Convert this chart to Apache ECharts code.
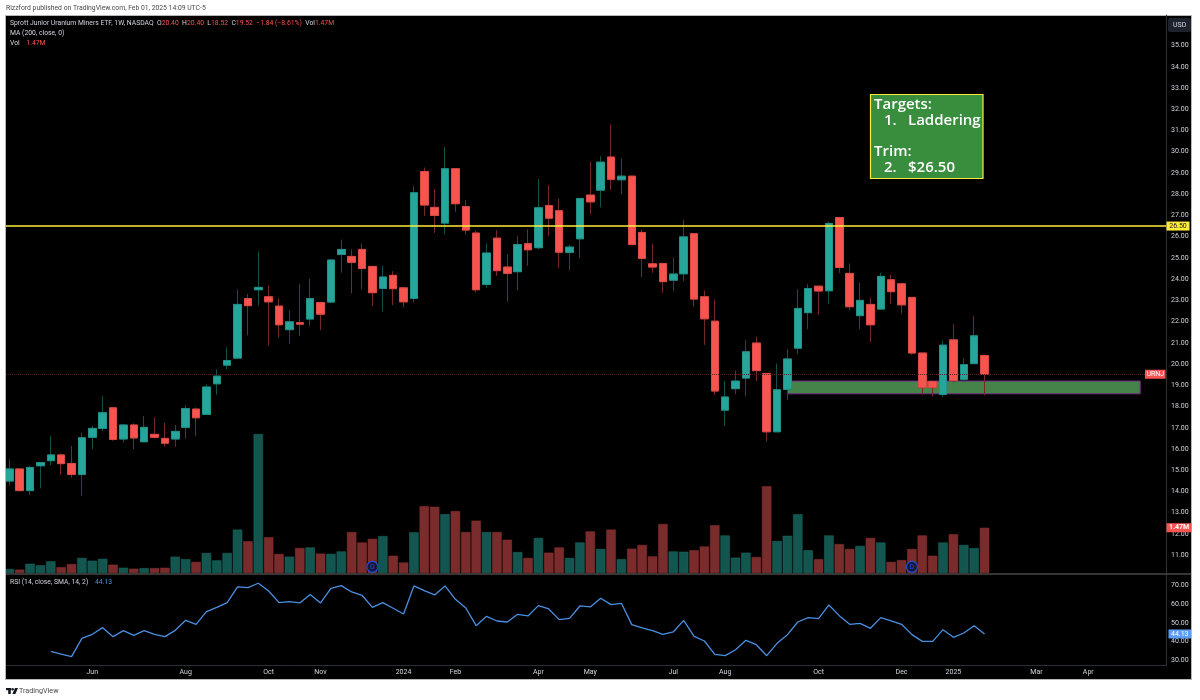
<!DOCTYPE html>
<html>
<head>
<meta charset="utf-8">
<title>URNJ 1W</title>
<style>
html, body { margin: 0; padding: 0; background: #fff; }
#frame { position: absolute; left: 5px; top: 15px; width: 1185px; height: 663px; background: #000; border: 1px solid #b8b8b8; }
#chart { position: absolute; left: 0; top: 0; width: 1200px; height: 700px; }
</style>
</head>
<body>
<div id="frame"></div>
<div id="chart"></div>
<script src="https://cdn.jsdelivr.net/npm/echarts@6/dist/echarts.min.js"></script>
<script>
var opens = [14.49,15.06,14.04,15.21,15.45,15.72,15.32,14.80,16.55,16.97,17.94,16.47,17.13,16.34,16.69,16.50,16.47,17.02,17.88,17.63,
    19.07,19.95,20.28,23.09,23.50,23.17,22.73,21.62,21.95,22.12,22.90,22.92,25.16,25.07,25.40,24.60,23.56,24.18,23.59,23.09,
    29.07,27.38,26.64,29.20,27.42,26.17,23.75,25.93,24.57,24.35,25.67,25.48,27.47,27.22,25.26,25.90,27.96,28.19,29.75,28.68,
    28.85,26.20,24.72,24.74,23.95,24.25,26.14,23.17,22.02,17.83,18.84,19.34,20.99,19.56,16.81,18.81,20.75,22.42,23.67,23.45,
    26.90,24.27,22.28,22.81,22.59,23.97,23.78,23.14,20.52,19.18,18.57,21.14,19.28,20.02,20.40];
var closes = [15.06,14.04,15.13,15.36,15.72,15.31,14.80,16.53,16.97,17.71,16.45,17.13,16.52,17.02,16.55,16.27,16.83,17.91,17.47,18.92,
    19.43,20.17,22.81,22.75,23.61,22.93,21.85,21.99,21.88,23.09,22.35,24.90,25.40,24.79,24.50,23.36,24.10,23.55,22.93,28.07,
    27.49,27.00,29.20,27.55,26.31,23.50,25.23,24.40,24.27,25.63,25.38,27.36,26.87,25.27,25.51,27.80,27.64,29.51,28.70,28.85,
    25.63,24.97,24.57,23.88,24.24,25.99,23.06,22.13,18.73,18.45,19.20,20.58,19.69,16.81,18.79,20.24,22.62,23.56,23.44,26.62,
    24.55,22.70,23.00,21.85,24.13,23.41,22.79,20.52,18.89,18.89,20.89,19.22,19.97,21.33,19.52];
var lows = [14.27,14.00,13.83,14.15,15.24,14.77,14.65,13.79,16.00,16.85,16.39,16.30,16.00,16.34,16.50,16.11,16.11,16.48,16.59,17.63,
    18.56,19.75,20.28,21.35,22.75,20.86,21.24,20.96,21.33,21.80,21.60,22.89,24.30,23.33,23.53,22.73,22.48,22.77,22.67,22.90,
    26.98,26.18,26.10,27.17,26.10,23.37,23.59,24.16,22.94,23.48,24.63,25.40,26.03,24.53,24.43,24.98,27.06,27.38,28.21,28.00,
    25.63,24.10,24.30,23.36,23.44,23.91,22.70,20.90,18.54,17.08,18.59,18.49,19.20,16.37,16.81,18.30,20.47,21.65,22.31,22.84,
    24.30,22.54,21.65,21.04,22.59,22.84,22.37,20.44,18.57,18.48,18.46,19.12,19.17,20.02,18.52];
var highs = [15.51,15.06,15.20,15.36,16.61,15.79,16.14,16.77,17.08,18.49,17.94,17.17,17.21,17.55,17.49,17.24,17.13,18.07,17.96,19.04,
    19.75,20.79,23.52,23.30,25.30,23.70,23.09,22.53,23.77,24.02,22.90,24.94,25.87,25.40,25.68,24.60,24.63,24.38,23.59,28.38,
    29.26,28.25,30.22,29.20,27.72,26.28,25.68,26.31,25.18,26.03,26.34,28.71,28.43,27.80,25.63,27.80,29.54,29.79,31.28,29.68,
    28.85,26.34,25.68,24.74,25.02,26.81,26.14,23.47,23.04,19.20,19.70,21.13,21.29,19.56,20.03,20.71,23.53,23.77,23.67,26.70,
    26.90,24.74,23.83,23.12,24.30,24.22,23.78,23.14,20.52,19.23,21.10,21.88,20.27,22.26,20.40];
// volume in millions
var volumes = [0.13,0.11,0.30,0.25,0.38,0.19,0.29,0.49,0.40,0.46,0.27,0.17,0.14,0.16,0.16,0.17,0.53,0.45,0.36,0.65,
    0.41,0.65,1.41,1.03,4.51,1.16,0.62,0.53,0.81,0.83,0.63,0.62,0.70,1.33,0.99,1.11,1.20,0.56,0.34,1.32,
    2.17,2.15,1.91,2.01,1.33,1.70,1.33,1.33,1.08,0.68,0.49,1.14,0.66,0.83,0.49,0.99,1.35,0.78,1.41,0.45,
    0.79,0.91,0.54,1.59,0.70,0.69,0.74,0.86,1.55,1.22,0.50,0.66,0.52,2.82,1.04,1.21,1.91,0.74,0.45,1.22,
    0.94,0.78,0.88,1.14,0.99,0.36,0.42,0.78,1.22,0.56,0.99,1.26,0.91,0.81,1.47];
var rsi = [null,null,null,null,34.81,33.38,31.95,41.78,43.93,47.50,42.67,45.89,43.39,45.89,43.93,42.67,46.07,51.43,49.29,56.08,
    58.40,60.90,69.30,68.95,71.27,67.16,60.90,61.44,60.73,65.20,60.73,68.59,70.02,66.62,64.84,58.40,60.90,57.87,54.83,69.84,
    67.34,65.02,69.84,62.69,58.05,48.57,53.58,51.07,50.54,54.65,53.76,59.30,57.51,51.79,52.50,59.12,58.58,63.23,59.83,60.55,
    49.11,47.32,45.89,43.93,45.18,51.43,42.85,40.35,33.20,32.49,35.70,40.71,38.38,32.49,39.10,43.75,50.54,52.86,52.33,59.65,
    53.93,49.29,49.82,47.14,52.86,51.07,49.29,43.75,40.17,40.17,46.43,42.32,44.64,48.57,44.13];

var tickWeeks = [8,17,25,30,38,43,51,56,64,69,78,86,91,99,104];
var tickLabels = ['Jun','Aug','Oct','Nov','2024','Feb','Apr','May','Jul','Aug','Oct','Dec','2025','Mar','Apr'];
var priceTicks = [11,12,13,14,15,16,17,18,19,20,21,22,23,24,25,26,27,28,29,30,31,32,33,34,35];
var rsiTicks = [30,40,50,60,70];
var dividendWeeks = [35,87];
var targetLevel = 26.50;
var zoneLow = 18.60, zoneHigh = 19.20, zoneFrom = 75, zoneTo = 109;

var UP = '#26a69a', DOWN = '#f7544f', UP_WICK = '#0f514b', DOWN_WICK = '#742828';
var TEXT = '#d1d4dc', FONT = 'Roboto, "Liberation Sans", sans-serif';
var WEEK_COUNT = 112;

var weeks = [], i;
for (i = 0; i < WEEK_COUNT; i++) {
    weeks.push('w' + i);
}

var candles = opens.map(function(o, n) {
    return [o, closes[n], lows[n], highs[n]];
});

// same bodies with no wick, so the bodies can keep a brighter edge than the wicks
var bodies = opens.map(function(o, n) {
    return [o, closes[n], Math.min(o, closes[n]), Math.max(o, closes[n])];
});

var volumeBars = volumes.map(function(v, n) {
    return {
        value: v,
        itemStyle: {
            color: closes[n] >= opens[n] ? '#13564f' : '#7a2b2b',
            borderColor: closes[n] >= opens[n] ? '#1b6b63' : '#8c3333',
            borderWidth: 0.5
        }
    };
});

function fixed2(v) {
    return v.toFixed(2);
}

function weekTick(value, index) {
    var at = tickWeeks.indexOf(index);
    return at < 0 ? '' : tickLabels[at];
}

function hiddenX(gridIndex) {
    return {
        type: 'category', gridIndex: gridIndex, data: weeks,
        axisLine: { show: false }, axisTick: { show: false }, axisLabel: { show: false },
        splitLine: { show: false }
    };
}

var gridX = { left: 4.1, width: 1162 };

var option = {
    animation: false,
    backgroundColor: 'transparent',
    textStyle: { fontFamily: FONT },
    grid: [
        { left: gridX.left, width: gridX.width, top: 15, height: 558 },
        { left: gridX.left, width: gridX.width, top: 403, height: 170 },
        { left: gridX.left, width: gridX.width, top: 575, height: 90 }
    ],
    xAxis: [
        hiddenX(0),
        hiddenX(1),
        {
            type: 'category', gridIndex: 2, data: weeks,
            axisLine: { lineStyle: { color: '#2a2e39' } },
            axisTick: { show: false },
            splitLine: { show: false },
            axisLabel: { interval: 0, hideOverlap: false, formatter: weekTick, color: TEXT, fontSize: 7, margin: 4 }
        }
    ],
    yAxis: [
        {
            type: 'value', gridIndex: 0, position: 'right', min: 10.16, max: 36.44, scale: true,
            axisLine: { show: true, lineStyle: { color: '#333' } },
            axisTick: { show: false }, splitLine: { show: false },
            axisLabel: { customValues: priceTicks, formatter: fixed2, color: TEXT, fontSize: 7, margin: 5 }
        },
        {
            type: 'value', gridIndex: 1, min: 0, max: 5.52, show: false
        },
        {
            type: 'value', gridIndex: 2, position: 'right', min: 27.5, max: 75.7, scale: true,
            axisLine: { show: true, lineStyle: { color: '#333' } },
            axisTick: { show: false }, splitLine: { show: false },
            axisLabel: { customValues: rsiTicks, formatter: fixed2, color: TEXT, fontSize: 7, margin: 5 }
        }
    ],
    series: [
        {
            name: 'Vol', type: 'bar', xAxisIndex: 1, yAxisIndex: 1, barWidth: 9.4, z: 1,
            data: volumeBars,
            markPoint: {
                symbol: 'circle', symbolSize: 11, silent: true,
                itemStyle: { color: 'rgba(8,20,60,0.85)', borderColor: '#1c50d8', borderWidth: 1.2 },
                label: { formatter: 'D', color: '#1c50d8', fontSize: 7 },
                data: dividendWeeks.map(function(w) {
                    return { coord: [w, 0.2] };
                })
            }
        },
        {
            name: 'URNJ', type: 'candlestick', xAxisIndex: 0, yAxisIndex: 0, barWidth: 8, z: 3,
            itemStyle: { color: UP, color0: DOWN, borderColor: UP_WICK, borderColor0: DOWN_WICK, borderWidth: 1 },
            data: candles,
            markArea: {
                silent: true,
                itemStyle: { color: '#46834a', borderColor: '#7b2d8b', borderWidth: 1 },
                data: [[{ coord: [zoneFrom, zoneHigh] }, { coord: [zoneTo, zoneLow] }]]
            },
            markLine: {
                silent: true, symbol: 'none', label: { show: false },
                data: [
                    { yAxis: targetLevel, lineStyle: { color: '#ffeb3b', width: 1.5, type: 'solid' } },
                    { yAxis: closes[closes.length - 1], lineStyle: { color: '#5a2222', width: 1, type: 'dotted' } }
                ]
            }
        },
        {
            name: 'URNJ bodies', type: 'candlestick', xAxisIndex: 0, yAxisIndex: 0, barWidth: 8, z: 4,
            itemStyle: { color: UP, color0: DOWN, borderColor: '#229187', borderColor0: '#d94b47', borderWidth: 1 },
            data: bodies
        },
        {
            name: 'RSI', type: 'line', xAxisIndex: 2, yAxisIndex: 2, data: rsi, connectNulls: false,
            symbol: 'none', lineStyle: { color: '#4a90e2', width: 1.3 }
        }
    ]
};

var chart = echarts.init(document.getElementById('chart'));
chart.setOption(option);

// price tags and page furniture, placed after the scales exist
function tag(x, width, y, text, bg, color, bold) {
    return [
        { type: 'rect', z: 60, shape: { x: x, y: y - 4.5, width: width, height: 9 }, style: { fill: bg } },
        {
            type: 'text', z: 61, x: x + width / 2, y: y,
            style: { text: text, fill: color, font: (bold ? 'bold ' : '') + '7px ' + FONT, align: 'center', verticalAlign: 'middle' }
        }
    ];
}

function line(x, y, text, fill, size, weight) {
    return {
        type: 'text', z: 70, x: x, y: y,
        style: { text: text, fill: fill, font: (weight || 'normal') + ' ' + size + 'px ' + FONT, verticalAlign: 'middle' }
    };
}

var lastClose = closes[closes.length - 1];
var lastRsi = rsi[rsi.length - 1];
var lastVol = volumes[volumes.length - 1];
var closeY = chart.convertToPixel({ yAxisIndex: 0 }, lastClose);
var targetY = chart.convertToPixel({ yAxisIndex: 0 }, targetLevel);
var volY = chart.convertToPixel({ yAxisIndex: 1 }, lastVol);
var rsiY = chart.convertToPixel({ yAxisIndex: 2 }, lastRsi);

var legendRich = {
    t: { fill: TEXT, font: '6.8px ' + FONT },
    v: { fill: '#f7544f', font: '6.8px ' + FONT }
};

function boxLine(x, y, text) {
    return {
        type: 'text', z: 81, x: x, y: y,
        style: { text: text, fill: '#fff', font: '600 15px "Open Sans", sans-serif', verticalAlign: 'middle' }
    };
}

var graphics = [
    { type: 'rect', z: 100, shape: { x: 0, y: 14, width: 5, height: 668 }, style: { fill: '#fff' } },
    { type: 'rect', z: 100, shape: { x: 5, y: 15, width: 1, height: 665 }, style: { fill: '#b8b8b8' } },
    { type: 'rect', z: 40, shape: { x: 6, y: 573.5, width: 1185, height: 1 }, style: { fill: '#6a6a6a' } },
    { type: 'rect', z: 60, shape: { x: 1168, y: 18, width: 23, height: 14, r: 2 }, style: { fill: '#1e222d' } },
    line(1173, 25.5, 'USD', TEXT, 7),
    line(6, 8, 'Rizzford published on TradingView.com, Feb 01, 2025 14:09 UTC-5', '#4a4a4a', 6.8),
    {
        type: 'text', z: 70, x: 10, y: 23.5,
        style: {
            text: '{t|Sprott Junior Uranium Miners ETF, 1W, NASDAQ} {t|O}{v|20.40} {t|H}{v|20.40} {t|L}{v|18.52} {t|C}{v|19.52} {v|\u22121.84 (\u22128.61%)} {t|Vol}{v|1.47M}',
            verticalAlign: 'middle',
            rich: legendRich
        }
    },
    line(10, 33, 'MA (200, close, 0)', TEXT, 6.8),
    {
        type: 'text', z: 70, x: 10, y: 43,
        style: { text: '{t|Vol}  {v|1.47M}', verticalAlign: 'middle', rich: legendRich }
    },
    {
        type: 'text', z: 70, x: 10, y: 582.5,
        style: {
            text: '{t|RSI (14, close, SMA, 14, 2)}  {v|' + lastRsi.toFixed(2) + '}', verticalAlign: 'middle',
            rich: { t: legendRich.t, v: { fill: '#4a90e2', font: '6.8px ' + FONT } }
        }
    },
    { type: 'rect', z: 80, shape: { x: 870.5, y: 94.5, width: 112.5, height: 84 }, style: { fill: '#388e3c', stroke: '#ffeb3b', lineWidth: 1.2 } },
    boxLine(874, 105, 'Targets:'),
    boxLine(884, 121, '1.'),
    boxLine(908, 121, 'Laddering'),
    boxLine(874, 152, 'Trim:'),
    boxLine(884, 168, '2.'),
    boxLine(908, 168, '$26.50'),
    { type: 'rect', z: 70, shape: { x: 6, y: 688, width: 5, height: 2.2 }, style: { fill: '#131722' } },
    { type: 'rect', z: 70, shape: { x: 8.2, y: 688, width: 2.6, height: 6 }, style: { fill: '#131722' } },
    { type: 'circle', z: 70, shape: { cx: 12.6, cy: 689.2, r: 1.2 }, style: { fill: '#131722' } },
    { type: 'polygon', z: 70, shape: { points: [[15, 688], [18, 688], [15.4, 694], [12.4, 694]] }, style: { fill: '#131722' } },
    line(19, 691, 'TradingView', '#4a4a4a', 7.2)
];
graphics = graphics
    .concat(tag(1145, 20.5, closeY, 'URNJ', '#f7544f', '#fff'))
    .concat(tag(1166.5, 23, targetY, fixed2(targetLevel), '#ffeb3b', '#131722'))
    .concat(tag(1166.5, 25, volY, lastVol + 'M', '#f7544f', '#fff', true))
    .concat(tag(1168.5, 22.5, rsiY, fixed2(lastRsi), '#5b9cf6', '#fff'));
chart.setOption({ graphic: graphics });
</script>
</body>
</html>
